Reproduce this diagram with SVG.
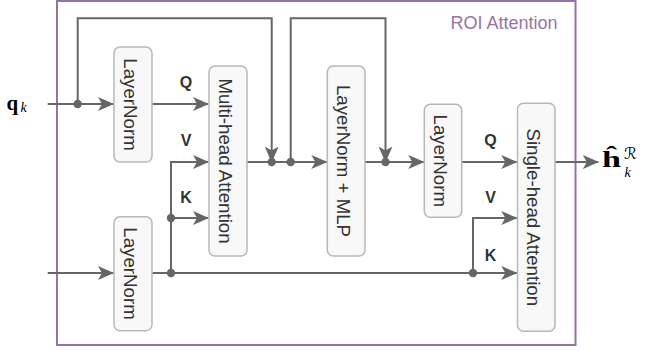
<svg xmlns="http://www.w3.org/2000/svg" width="645" height="351" viewBox="0 0 645 351">
  <style>
    .frame { fill: none; stroke: #9673a6; stroke-width: 2; }
    .frame-title { font-family: "Liberation Sans", Arial, sans-serif; font-size: 18px; fill: #9673a6; }
    .box { fill: #f8f8f8; stroke: #b8b8b8; stroke-width: 1.5; }
    .box-label { font-family: "Liberation Sans", Arial, sans-serif; font-size: 18.7px; fill: #333333; text-anchor: middle; }
    .port { font-family: "Liberation Sans", Arial, sans-serif; font-size: 16px; font-weight: bold; fill: #333333; text-anchor: middle; }
    .wire { fill: none; stroke: #666666; stroke-width: 2; }
    .arrow { marker-end: url(#head); }
    .dot { fill: #666666; }
    .math { font-family: "Liberation Serif", "Times New Roman", serif; fill: #000000; }
  </style>
  <defs>
    <marker id="head" viewBox="0 0 16 16" refX="15.5" refY="8" markerWidth="16" markerHeight="16" markerUnits="userSpaceOnUse" orient="auto">
      <path d="M0,1 L16,8 L0,15 L4,8 Z" fill="#666666"/>
    </marker>
  </defs>

  <!-- module frame -->
  <rect class="frame" x="57" y="1" width="518.5" height="344"/>
  <text class="frame-title" x="557.5" y="29" text-anchor="end">ROI Attention</text>

  <!-- connectors -->
  <g id="connectors">
    <path class="wire arrow" d="M47.7,104 H113.5"/>
    <path class="wire arrow" d="M77.7,104 V18.3 H271.7 V162"/>
    <path class="wire arrow" d="M152,104 H208.5"/>
    <path class="wire arrow" d="M47.7,273 H113.5"/>
    <path class="wire" d="M152,273 H473"/>
    <path class="wire arrow" d="M171,273 V162 H208.5"/>
    <path class="wire arrow" d="M171,218 H208.5"/>
    <path class="wire arrow" d="M247,162 H326.8"/>
    <path class="wire arrow" d="M290.7,162 V18.3 H385.5 V162"/>
    <path class="wire arrow" d="M365,162 H423.8"/>
    <path class="wire arrow" d="M461.7,162 H516.8"/>
    <path class="wire arrow" d="M473,273 V218 H516.8"/>
    <path class="wire arrow" d="M473,273 H516.8"/>
    <path class="wire arrow" d="M555,162 H598.3"/>

    <circle class="dot" cx="77.7" cy="104" r="4.2"/>
    <circle class="dot" cx="271.7" cy="162" r="4.2"/>
    <circle class="dot" cx="290.7" cy="162" r="4.2"/>
    <circle class="dot" cx="385.5" cy="162" r="4.2"/>
    <circle class="dot" cx="171" cy="218" r="4.2"/>
    <circle class="dot" cx="171" cy="273" r="4.2"/>
    <circle class="dot" cx="473" cy="273" r="4.2"/>

    <text class="port" x="186" y="88">Q</text>
    <text class="port" x="186" y="146">V</text>
    <text class="port" x="186" y="203">K</text>
    <text class="port" x="490.5" y="145.5">Q</text>
    <text class="port" x="490.5" y="202.5">V</text>
    <text class="port" x="490.5" y="260.5">K</text>
  </g>

  <!-- blocks -->
  <g id="layernorm-q">
    <rect class="box" x="114" y="47" width="38" height="115" rx="6"/>
    <text class="box-label" transform="translate(133,104.5) rotate(90)" x="0" y="9">LayerNorm</text>
  </g>
  <g id="layernorm-kv">
    <rect class="box" x="114" y="216.7" width="38" height="114" rx="6"/>
    <text class="box-label" transform="translate(133,273.5) rotate(90)" x="0" y="9">LayerNorm</text>
  </g>
  <g id="multi-head-attention">
    <rect class="box" x="209" y="66" width="38" height="190" rx="6"/>
    <text class="box-label" transform="translate(228,161) rotate(90)" x="0" y="9">Multi-head Attention</text>
  </g>
  <g id="layernorm-mlp">
    <rect class="box" x="327.3" y="66" width="37.7" height="190" rx="6"/>
    <text class="box-label" transform="translate(346.2,161) rotate(90)" x="0" y="9">LayerNorm + MLP</text>
  </g>
  <g id="layernorm-out">
    <rect class="box" x="424.3" y="104.3" width="37.4" height="113" rx="6"/>
    <text class="box-label" transform="translate(443,160.8) rotate(90)" x="0" y="9">LayerNorm</text>
  </g>
  <g id="single-head-attention">
    <rect class="box" x="517.5" y="103.3" width="37.5" height="228" rx="6"/>
    <text class="box-label" transform="translate(536.3,217.3) rotate(90)" x="0" y="9">Single-head Attention</text>
  </g>

  <!-- input / output symbols -->
  <g id="input-q">
    <text class="math" x="6.5" y="110" font-size="21" font-weight="bold">q</text>
    <text class="math" x="20.5" y="112" font-size="14" font-style="italic">k</text>
  </g>
  <g id="output-h">
    <text class="math" x="602" y="167.3" font-size="23" font-weight="bold" textLength="19" lengthAdjust="spacingAndGlyphs">ĥ</text>
    <text class="math" x="624.5" y="176.7" font-size="14" font-style="italic">k</text>
    <text x="624" y="159" font-family="'DejaVu Serif', 'DejaVu Sans', serif" font-size="16" font-style="italic" fill="#000000">ℛ</text>
  </g>
</svg>
